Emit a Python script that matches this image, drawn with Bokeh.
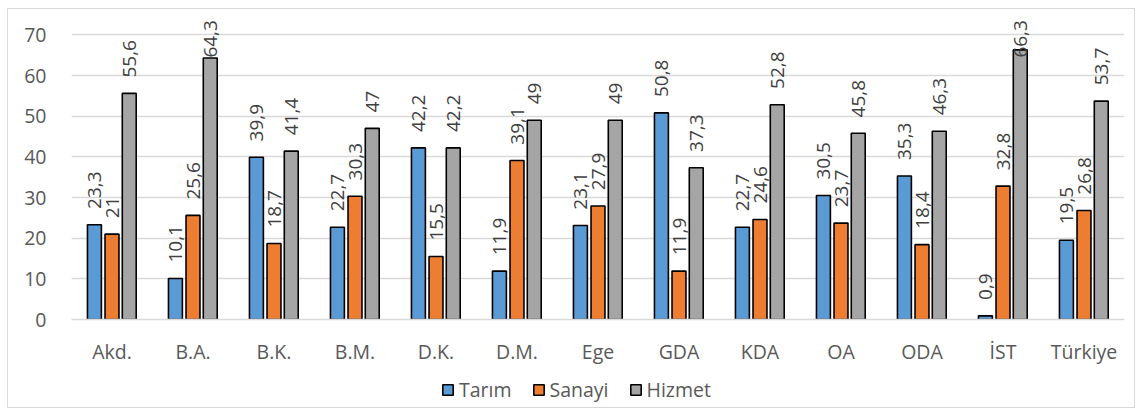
from bokeh.plotting import figure
from bokeh.layouts import column
from bokeh.models import ColumnDataSource, FactorRange, Range1d, Legend, LegendItem, FixedTicker
from bokeh.transform import dodge
from bokeh.core.properties import value
from bokeh.embed import file_html
from bokeh.resources import INLINE
import math

categories = ["Akd.", "B.A.", "B.K.", "B.M.", "D.K.", "D.M.", "Ege", "GDA", "KDA", "OA", "ODA", "İST", "Türkiye"]
tarim = [23.3, 10.1, 39.9, 22.7, 42.2, 11.9, 23.1, 50.8, 22.7, 30.5, 35.3, 0.9, 19.5]
sanayi = [21, 25.6, 18.7, 30.3, 15.5, 39.1, 27.9, 11.9, 24.6, 23.7, 18.4, 32.8, 26.8]
hizmet = [55.6, 64.3, 41.4, 47, 42.2, 49, 49, 37.3, 52.8, 45.8, 46.3, 66.3, 53.7]
series_names = ["Tarım", "Sanayi", "Hizmet"]
colors = ["#5B9BD5", "#ED7D31", "#A5A5A5"]
y_ticks = [0, 10, 20, 30, 40, 50, 60, 70]

FONT = "Open Sans"


def fmt(v):
    s = ("%g" % v)
    return s.replace(".", ",")


def label_pos(v):
    return min(v + 3.9, 64.4)


p = figure(x_range=FactorRange(factors=categories, range_padding=0),
           y_range=Range1d(0, 75),
           width=1126, height=358,
           output_backend="svg", toolbar_location=None,
           min_border_left=63, min_border_right=10, min_border_top=5, min_border_bottom=47)
p.outline_line_color = None
p.xgrid.grid_line_color = None
p.ygrid.grid_line_color = "#d9d9d9"
p.ygrid.grid_line_width = 1.3

p.yaxis.ticker = FixedTicker(ticks=y_ticks)
p.yaxis.axis_line_color = None
p.yaxis.major_tick_line_color = None
p.yaxis.minor_tick_line_color = None
p.yaxis.major_label_standoff = 19
p.yaxis.major_label_text_font = FONT
p.yaxis.major_label_text_font_size = "19.5px"
p.yaxis.major_label_text_color = "#595959"

p.xaxis.axis_line_color = "#d9d9d9"
p.xaxis.axis_line_width = 1.3
p.xaxis.major_tick_line_color = None
p.xaxis.minor_tick_line_color = None
p.xaxis.major_label_standoff = 12
p.xaxis.major_label_text_font = FONT
p.xaxis.major_label_text_font_size = "19.5px"
p.xaxis.major_label_text_color = "#595959"

src = ColumnDataSource(dict(
    cats=categories,
    tarim=tarim, sanayi=sanayi, hizmet=hizmet,
    tarim_lbl=[fmt(v) for v in tarim],
    sanayi_lbl=[fmt(v) for v in sanayi],
    hizmet_lbl=[fmt(v) for v in hizmet],
    tarim_y=[label_pos(v) for v in tarim],
    sanayi_y=[label_pos(v) for v in sanayi],
    hizmet_y=[label_pos(v) for v in hizmet],
))

offsets = [-0.217, 0.0, 0.213]
fields = ["tarim", "sanayi", "hizmet"]
for f, off, c in zip(fields, offsets, colors):
    p.vbar(x=dodge("cats", off, range=p.x_range), top=f, width=0.172, bottom=0,
           source=src, fill_color=c, line_color="black", line_width=1.6)
    p.text(x=dodge("cats", off, range=p.x_range), y=f + "_y", text=f + "_lbl", source=src,
           angle=math.pi / 2, text_align="left", text_baseline="middle",
           text_font=value(FONT), text_font_size="19px", text_color="#404040")

# legend strip below the chart: its bars are zero-sized and outside its visible range,
# they only provide the legend swatches
p2 = figure(width=1126, height=40, x_range=FactorRange(factors=categories), y_range=Range1d(1000, 1001),
            output_backend="svg", toolbar_location=None,
            x_axis_location=None, y_axis_location=None,
            min_border_left=0, min_border_right=0, min_border_top=0, min_border_bottom=0)
p2.outline_line_color = None
p2.grid.grid_line_color = None
items = []
for f, c, name in zip(fields, colors, series_names):
    r = p2.vbar(x="cats", top=f, bottom=f, width=0.0, source=src,
                fill_color=c, line_color="black", line_width=1.6)
    items.append(LegendItem(label=name, renderers=[r]))

legend = Legend(items=items, orientation="horizontal", location=(370, 4),
                label_text_font=FONT, label_text_font_size="19.5px", label_text_color="#595959",
                glyph_width=13, glyph_height=13, label_standoff=5, spacing=20,
                padding=0, margin=0, border_line_color=None, background_fill_alpha=0)
p2.add_layout(legend, "center")

layout = column(p, p2, spacing=0,
                styles={"border": "1px solid #d9d9d9", "margin-left": "7px", "margin-top": "8px"})

open("out.html", "w").write(file_html(layout, INLINE))
